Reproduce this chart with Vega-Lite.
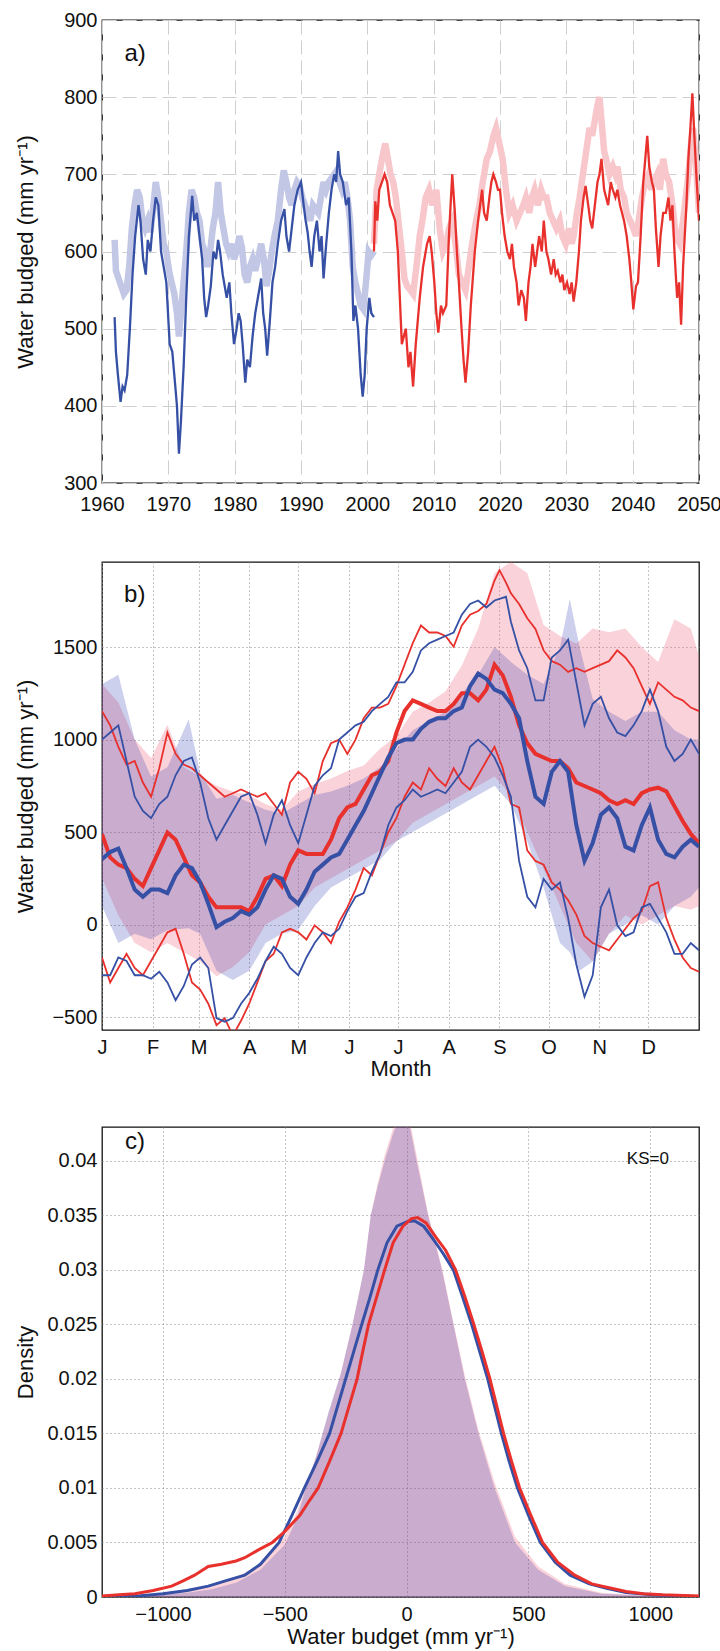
{
"$schema":"https://vega.github.io/schema/vega-lite/v6.json",
"padding":{"left":13,"top":9,"right":5,"bottom":2},
"autosize":{"type":"pad"},
"spacing":46,
"config":{
 "font":"Liberation Sans",
 "view":{"stroke":"#111","strokeWidth":1.3},
 "axis":{"domain":false,"ticks":false,"tickSize":0,"labelFont":"Liberation Sans","titleFont":"Liberation Sans","labelFontSize":20,"titleFontSize":22,"labelFlush":false,"labelOverlap":false,"labelColor":"#111","titleColor":"#111","titleFontWeight":"normal","labelPadding":5},
 "axisX":{"labelPadding":7,"titlePadding":2},
 "text":{"font":"Liberation Sans","color":"#111"}
},
"datasets":{
"aHD":[{"t":1961.9,"v":515},{"t":1962.1,"v":470},{"t":1962.4,"v":440},{"t":1962.8,"v":405},{"t":1963.1,"v":425},{"t":1963.4,"v":420},{"t":1963.8,"v":440},{"t":1964.2,"v":500},{"t":1964.6,"v":570},{"t":1965,"v":620},{"t":1965.5,"v":660},{"t":1965.8,"v":640},{"t":1966.2,"v":590},{"t":1966.6,"v":570},{"t":1966.9,"v":615},{"t":1967.3,"v":600},{"t":1967.7,"v":640},{"t":1968.1,"v":670},{"t":1968.5,"v":660},{"t":1968.9,"v":600},{"t":1969.3,"v":580},{"t":1969.7,"v":560},{"t":1970.2,"v":480},{"t":1970.6,"v":470},{"t":1971,"v":430},{"t":1971.3,"v":400},{"t":1971.6,"v":338},{"t":1971.9,"v":380},{"t":1972.3,"v":450},{"t":1972.7,"v":540},{"t":1973.1,"v":620},{"t":1973.6,"v":672},{"t":1973.9,"v":640},{"t":1974.3,"v":650},{"t":1974.7,"v":620},{"t":1975.1,"v":590},{"t":1975.4,"v":540},{"t":1975.7,"v":515},{"t":1976,"v":530},{"t":1976.4,"v":555},{"t":1976.8,"v":600},{"t":1977.2,"v":590},{"t":1977.5,"v":615},{"t":1977.8,"v":600},{"t":1978.2,"v":570},{"t":1978.8,"v":540},{"t":1979.2,"v":560},{"t":1979.5,"v":520},{"t":1979.9,"v":480},{"t":1980.3,"v":500},{"t":1980.6,"v":520},{"t":1980.9,"v":510},{"t":1981.2,"v":480},{"t":1981.6,"v":430},{"t":1981.9,"v":460},{"t":1982.3,"v":450},{"t":1982.7,"v":490},{"t":1983.1,"v":520},{"t":1983.5,"v":540},{"t":1984,"v":565},{"t":1984.3,"v":520},{"t":1984.6,"v":500},{"t":1984.9,"v":465},{"t":1985.3,"v":510},{"t":1985.7,"v":560},{"t":1986.1,"v":580},{"t":1986.5,"v":610},{"t":1987,"v":640},{"t":1987.5,"v":655},{"t":1987.8,"v":620},{"t":1988.2,"v":600},{"t":1988.6,"v":630},{"t":1989,"v":660},{"t":1989.5,"v":680},{"t":1990,"v":690},{"t":1990.4,"v":660},{"t":1990.7,"v":640},{"t":1991,"v":625},{"t":1991.3,"v":600},{"t":1991.6,"v":580},{"t":1992,"v":620},{"t":1992.4,"v":640},{"t":1992.8,"v":600},{"t":1993.1,"v":620},{"t":1993.4,"v":565},{"t":1993.8,"v":610},{"t":1994.2,"v":650},{"t":1994.6,"v":680},{"t":1995,"v":700},{"t":1995.3,"v":690},{"t":1995.6,"v":730},{"t":1995.9,"v":700},{"t":1996.3,"v":690},{"t":1996.8,"v":660},{"t":1997.2,"v":670},{"t":1997.6,"v":600},{"t":1997.9,"v":510},{"t":1998.2,"v":530},{"t":1998.6,"v":500},{"t":1999,"v":440},{"t":1999.3,"v":412},{"t":1999.6,"v":440},{"t":1999.9,"v":500},{"t":2000.3,"v":540},{"t":2000.6,"v":520},{"t":2001,"v":515}],
"aHL":[{"t":1961.9,"v":615},{"t":1962.1,"v":575},{"t":1962.5,"v":565},{"t":1962.9,"v":555},{"t":1963.3,"v":545},{"t":1963.7,"v":550},{"t":1964.1,"v":580},{"t":1964.5,"v":630},{"t":1964.9,"v":660},{"t":1965.3,"v":680},{"t":1965.7,"v":670},{"t":1966.1,"v":640},{"t":1966.5,"v":630},{"t":1966.9,"v":640},{"t":1967.3,"v":625},{"t":1967.7,"v":655},{"t":1968.1,"v":690},{"t":1968.5,"v":670},{"t":1968.9,"v":640},{"t":1969.3,"v":610},{"t":1969.7,"v":600},{"t":1970.1,"v":575},{"t":1970.5,"v":560},{"t":1970.9,"v":545},{"t":1971.3,"v":520},{"t":1971.6,"v":490},{"t":1971.9,"v":520},{"t":1972.3,"v":560},{"t":1972.7,"v":600},{"t":1973.1,"v":650},{"t":1973.5,"v":680},{"t":1973.9,"v":670},{"t":1974.3,"v":650},{"t":1974.7,"v":640},{"t":1975.1,"v":610},{"t":1975.5,"v":600},{"t":1975.9,"v":580},{"t":1976.3,"v":600},{"t":1976.7,"v":630},{"t":1977.1,"v":650},{"t":1977.5,"v":690},{"t":1977.9,"v":650},{"t":1978.3,"v":630},{"t":1978.7,"v":610},{"t":1979.1,"v":600},{"t":1979.5,"v":610},{"t":1979.9,"v":590},{"t":1980.3,"v":600},{"t":1980.7,"v":620},{"t":1981.1,"v":605},{"t":1981.5,"v":570},{"t":1981.9,"v":560},{"t":1982.3,"v":580},{"t":1982.7,"v":590},{"t":1983.1,"v":575},{"t":1983.5,"v":590},{"t":1984,"v":610},{"t":1984.4,"v":590},{"t":1984.8,"v":555},{"t":1985.2,"v":575},{"t":1985.6,"v":600},{"t":1986,"v":620},{"t":1986.5,"v":640},{"t":1987,"v":680},{"t":1987.4,"v":705},{"t":1987.8,"v":690},{"t":1988.2,"v":670},{"t":1988.6,"v":660},{"t":1989,"v":680},{"t":1989.4,"v":690},{"t":1989.8,"v":685},{"t":1990.2,"v":670},{"t":1990.6,"v":660},{"t":1991,"v":650},{"t":1991.4,"v":640},{"t":1991.8,"v":660},{"t":1992.2,"v":655},{"t":1992.6,"v":650},{"t":1993,"v":670},{"t":1993.4,"v":690},{"t":1993.8,"v":680},{"t":1994.2,"v":690},{"t":1994.6,"v":695},{"t":1995,"v":700},{"t":1995.4,"v":705},{"t":1995.8,"v":690},{"t":1996.2,"v":680},{"t":1996.6,"v":690},{"t":1997,"v":670},{"t":1997.4,"v":640},{"t":1997.8,"v":580},{"t":1998.2,"v":560},{"t":1998.6,"v":545},{"t":1999,"v":530},{"t":1999.4,"v":525},{"t":1999.8,"v":560},{"t":2000.2,"v":600},{"t":2000.6,"v":595},{"t":2001,"v":600}],
"aFD":[{"t":2001,"v":600},{"t":2001.2,"v":665},{"t":2001.5,"v":640},{"t":2001.8,"v":680},{"t":2002.2,"v":690},{"t":2002.6,"v":700},{"t":2003,"v":690},{"t":2003.4,"v":660},{"t":2003.8,"v":650},{"t":2004.2,"v":640},{"t":2004.6,"v":600},{"t":2004.9,"v":540},{"t":2005.2,"v":480},{"t":2005.5,"v":490},{"t":2005.8,"v":500},{"t":2006.2,"v":450},{"t":2006.5,"v":470},{"t":2006.9,"v":425},{"t":2007.3,"v":480},{"t":2007.9,"v":540},{"t":2008.4,"v":580},{"t":2009,"v":610},{"t":2009.4,"v":620},{"t":2009.7,"v":600},{"t":2010.1,"v":560},{"t":2010.4,"v":520},{"t":2010.7,"v":495},{"t":2011.1,"v":530},{"t":2011.4,"v":520},{"t":2011.9,"v":530},{"t":2012.3,"v":620},{"t":2012.8,"v":700},{"t":2013.2,"v":650},{"t":2013.5,"v":600},{"t":2013.8,"v":560},{"t":2014.2,"v":500},{"t":2014.5,"v":460},{"t":2014.8,"v":430},{"t":2015.2,"v":470},{"t":2015.6,"v":530},{"t":2016.2,"v":600},{"t":2016.7,"v":640},{"t":2017.3,"v":680},{"t":2017.6,"v":650},{"t":2018,"v":640},{"t":2018.4,"v":670},{"t":2018.7,"v":690},{"t":2019,"v":700},{"t":2019.4,"v":690},{"t":2019.7,"v":680},{"t":2020,"v":680},{"t":2020.3,"v":650},{"t":2020.7,"v":620},{"t":2021.1,"v":600},{"t":2021.5,"v":590},{"t":2021.8,"v":610},{"t":2022.1,"v":580},{"t":2022.5,"v":560},{"t":2022.8,"v":530},{"t":2023.2,"v":550},{"t":2023.6,"v":540},{"t":2023.9,"v":510},{"t":2024.3,"v":560},{"t":2024.6,"v":580},{"t":2024.9,"v":610},{"t":2025.3,"v":580},{"t":2025.6,"v":600},{"t":2025.9,"v":620},{"t":2026.3,"v":600},{"t":2026.6,"v":640},{"t":2027,"v":600},{"t":2027.3,"v":590},{"t":2027.7,"v":570},{"t":2028.1,"v":590},{"t":2028.4,"v":570},{"t":2028.7,"v":575},{"t":2029.1,"v":560},{"t":2029.4,"v":570},{"t":2029.7,"v":550},{"t":2030.1,"v":560},{"t":2030.5,"v":545},{"t":2030.8,"v":560},{"t":2031.1,"v":535},{"t":2031.5,"v":560},{"t":2031.9,"v":600},{"t":2032.2,"v":640},{"t":2032.6,"v":670},{"t":2032.9,"v":685},{"t":2033.3,"v":660},{"t":2033.6,"v":640},{"t":2033.9,"v":630},{"t":2034.3,"v":660},{"t":2034.7,"v":690},{"t":2035,"v":700},{"t":2035.3,"v":720},{"t":2035.7,"v":680},{"t":2036,"v":670},{"t":2036.3,"v":660},{"t":2036.7,"v":690},{"t":2037,"v":680},{"t":2037.4,"v":670},{"t":2037.7,"v":680},{"t":2038.1,"v":660},{"t":2038.4,"v":650},{"t":2038.7,"v":640},{"t":2039.1,"v":620},{"t":2039.5,"v":590},{"t":2039.8,"v":560},{"t":2040.1,"v":525},{"t":2040.5,"v":555},{"t":2040.8,"v":560},{"t":2041.2,"v":620},{"t":2041.6,"v":690},{"t":2041.9,"v":720},{"t":2042.2,"v":750},{"t":2042.5,"v":710},{"t":2042.9,"v":690},{"t":2043.2,"v":680},{"t":2043.5,"v":630},{"t":2043.9,"v":580},{"t":2044.2,"v":620},{"t":2044.6,"v":650},{"t":2045,"v":650},{"t":2045.4,"v":670},{"t":2045.7,"v":640},{"t":2046,"v":660},{"t":2046.3,"v":600},{"t":2046.7,"v":540},{"t":2047,"v":560},{"t":2047.3,"v":505},{"t":2047.6,"v":580},{"t":2048.1,"v":660},{"t":2048.4,"v":720},{"t":2048.7,"v":760},{"t":2049,"v":805},{"t":2049.3,"v":750},{"t":2049.6,"v":700},{"t":2050,"v":640}],
"aFL":[{"t":2001,"v":610},{"t":2001.4,"v":680},{"t":2001.8,"v":700},{"t":2002.2,"v":720},{"t":2002.7,"v":740},{"t":2003.1,"v":720},{"t":2003.5,"v":700},{"t":2003.9,"v":690},{"t":2004.3,"v":670},{"t":2004.8,"v":630},{"t":2005.2,"v":600},{"t":2005.6,"v":565},{"t":2006,"v":555},{"t":2006.5,"v":550},{"t":2006.9,"v":545},{"t":2007.4,"v":580},{"t":2007.9,"v":620},{"t":2008.3,"v":640},{"t":2008.8,"v":670},{"t":2009.3,"v":680},{"t":2009.8,"v":660},{"t":2010.4,"v":680},{"t":2010.9,"v":630},{"t":2011.4,"v":600},{"t":2011.9,"v":610},{"t":2012.3,"v":630},{"t":2012.8,"v":640},{"t":2013.3,"v":610},{"t":2013.8,"v":570},{"t":2014.3,"v":560},{"t":2014.8,"v":550},{"t":2015.3,"v":580},{"t":2015.8,"v":610},{"t":2016.4,"v":640},{"t":2016.9,"v":660},{"t":2017.4,"v":690},{"t":2018,"v":720},{"t":2018.5,"v":730},{"t":2019,"v":750},{"t":2019.4,"v":760},{"t":2019.9,"v":740},{"t":2020.4,"v":720},{"t":2020.9,"v":680},{"t":2021.4,"v":650},{"t":2021.9,"v":660},{"t":2022.5,"v":640},{"t":2023,"v":650},{"t":2023.5,"v":660},{"t":2023.9,"v":670},{"t":2024.4,"v":650},{"t":2024.8,"v":670},{"t":2025.2,"v":680},{"t":2025.7,"v":660},{"t":2026.2,"v":680},{"t":2026.6,"v":670},{"t":2027,"v":670},{"t":2027.5,"v":650},{"t":2028,"v":640},{"t":2028.5,"v":630},{"t":2029,"v":640},{"t":2029.4,"v":620},{"t":2029.9,"v":610},{"t":2030.4,"v":630},{"t":2030.8,"v":610},{"t":2031.1,"v":620},{"t":2031.6,"v":650},{"t":2032,"v":670},{"t":2032.5,"v":700},{"t":2033,"v":730},{"t":2033.5,"v":760},{"t":2033.9,"v":750},{"t":2034.3,"v":770},{"t":2034.7,"v":790},{"t":2035,"v":800},{"t":2035.4,"v":760},{"t":2035.7,"v":730},{"t":2036,"v":720},{"t":2036.5,"v":700},{"t":2037,"v":710},{"t":2037.4,"v":700},{"t":2037.7,"v":710},{"t":2038.2,"v":680},{"t":2038.7,"v":670},{"t":2039.1,"v":650},{"t":2039.6,"v":640},{"t":2040.1,"v":630},{"t":2040.5,"v":620},{"t":2040.9,"v":640},{"t":2041.4,"v":670},{"t":2041.9,"v":690},{"t":2042.4,"v":700},{"t":2042.8,"v":680},{"t":2043.2,"v":690},{"t":2043.7,"v":700},{"t":2044.1,"v":680},{"t":2044.6,"v":720},{"t":2045,"v":700},{"t":2045.5,"v":690},{"t":2046,"v":660},{"t":2046.5,"v":620},{"t":2047.1,"v":610},{"t":2047.6,"v":640},{"t":2048,"v":670},{"t":2048.4,"v":700},{"t":2048.8,"v":740},{"t":2049.1,"v":760},{"t":2049.5,"v":720},{"t":2050,"v":650}],
"bBandBlue":[{"d":0,"hi":1300,"lo":100},{"d":10,"hi":1350,"lo":-100},{"d":20,"hi":1000,"lo":-50},{"d":30,"hi":800,"lo":-80},{"d":40,"hi":850,"lo":-30},{"d":53,"hi":1110,"lo":-20},{"d":60,"hi":820,"lo":-50},{"d":70,"hi":680,"lo":-250},{"d":80,"hi":700,"lo":-300},{"d":90,"hi":660,"lo":-250},{"d":100,"hi":620,"lo":-100},{"d":110,"hi":600,"lo":-50},{"d":120,"hi":650,"lo":-30},{"d":130,"hi":700,"lo":100},{"d":140,"hi":720,"lo":200},{"d":150,"hi":750,"lo":250},{"d":160,"hi":790,"lo":300},{"d":170,"hi":850,"lo":350},{"d":180,"hi":950,"lo":450},{"d":190,"hi":1050,"lo":500},{"d":200,"hi":1100,"lo":550},{"d":210,"hi":1150,"lo":600},{"d":220,"hi":1250,"lo":650},{"d":230,"hi":1350,"lo":700},{"d":240,"hi":1500,"lo":750},{"d":250,"hi":1420,"lo":650},{"d":260,"hi":1350,"lo":450},{"d":270,"hi":1300,"lo":200},{"d":280,"hi":1500,"lo":-100},{"d":286,"hi":1760,"lo":-150},{"d":292,"hi":1500,"lo":-250},{"d":300,"hi":1220,"lo":-200},{"d":310,"hi":1150,"lo":-50},{"d":320,"hi":1100,"lo":0},{"d":330,"hi":1150,"lo":50},{"d":340,"hi":1150,"lo":0},{"d":350,"hi":1050,"lo":100},{"d":360,"hi":1000,"lo":150},{"d":365,"hi":1000,"lo":200}],
"bBandRed":[{"d":0,"hi":1300,"lo":250},{"d":10,"hi":1200,"lo":50},{"d":20,"hi":1000,"lo":-100},{"d":30,"hi":900,"lo":-150},{"d":40,"hi":1080,"lo":-100},{"d":50,"hi":850,"lo":-150},{"d":60,"hi":800,"lo":-200},{"d":70,"hi":750,"lo":-280},{"d":80,"hi":720,"lo":-230},{"d":90,"hi":700,"lo":-150},{"d":100,"hi":650,"lo":0},{"d":110,"hi":620,"lo":50},{"d":120,"hi":720,"lo":100},{"d":130,"hi":760,"lo":200},{"d":140,"hi":790,"lo":250},{"d":150,"hi":830,"lo":300},{"d":160,"hi":860,"lo":350},{"d":170,"hi":950,"lo":400},{"d":180,"hi":1020,"lo":450},{"d":190,"hi":1150,"lo":550},{"d":200,"hi":1200,"lo":600},{"d":210,"hi":1260,"lo":650},{"d":220,"hi":1400,"lo":700},{"d":230,"hi":1600,"lo":750},{"d":240,"hi":1900,"lo":800},{"d":250,"hi":1960,"lo":700},{"d":260,"hi":1900,"lo":500},{"d":270,"hi":1620,"lo":300},{"d":280,"hi":1560,"lo":100},{"d":290,"hi":1520,"lo":-100},{"d":300,"hi":1600,"lo":-200},{"d":310,"hi":1580,"lo":-50},{"d":320,"hi":1600,"lo":50},{"d":330,"hi":1500,"lo":0},{"d":340,"hi":1420,"lo":50},{"d":350,"hi":1650,"lo":100},{"d":360,"hi":1600,"lo":80},{"d":365,"hi":1450,"lo":100}],
"bThinRed":[
{"d":0,"v":1154,"s":"up"},{"d":5,"v":1077,"s":"up"},{"d":10,"v":961,"s":"up"},{"d":15,"v":865,"s":"up"},{"d":20,"v":884,"s":"up"},{"d":25,"v":768,"s":"up"},{"d":30,"v":691,"s":"up"},{"d":35,"v":845,"s":"up"},{"d":40,"v":1038,"s":"up"},{"d":45,"v":923,"s":"up"},{"d":50,"v":865,"s":"up"},{"d":55,"v":845,"s":"up"},{"d":60,"v":807,"s":"up"},{"d":65,"v":768,"s":"up"},{"d":70,"v":730,"s":"up"},{"d":75,"v":691,"s":"up"},{"d":80,"v":710,"s":"up"},{"d":85,"v":730,"s":"up"},{"d":90,"v":710,"s":"up"},{"d":95,"v":691,"s":"up"},{"d":100,"v":710,"s":"up"},{"d":105,"v":652,"s":"up"},{"d":110,"v":594,"s":"up"},{"d":115,"v":768,"s":"up"},{"d":120,"v":826,"s":"up"},{"d":125,"v":788,"s":"up"},{"d":130,"v":710,"s":"up"},{"d":135,"v":884,"s":"up"},{"d":140,"v":980,"s":"up"},{"d":145,"v":1000,"s":"up"},{"d":150,"v":923,"s":"up"},{"d":155,"v":1000,"s":"up"},{"d":160,"v":1115,"s":"up"},{"d":165,"v":1173,"s":"up"},{"d":170,"v":1173,"s":"up"},{"d":175,"v":1193,"s":"up"},{"d":180,"v":1289,"s":"up"},{"d":185,"v":1405,"s":"up"},{"d":190,"v":1521,"s":"up"},{"d":195,"v":1617,"s":"up"},{"d":200,"v":1579,"s":"up"},{"d":205,"v":1579,"s":"up"},{"d":210,"v":1560,"s":"up"},{"d":215,"v":1502,"s":"up"},{"d":220,"v":1617,"s":"up"},{"d":225,"v":1675,"s":"up"},{"d":230,"v":1695,"s":"up"},{"d":235,"v":1733,"s":"up"},{"d":240,"v":1860,"s":"up"},{"d":243,"v":1916,"s":"up"},{"d":247,"v":1849,"s":"up"},{"d":250,"v":1791,"s":"up"},{"d":255,"v":1733,"s":"up"},{"d":260,"v":1656,"s":"up"},{"d":265,"v":1598,"s":"up"},{"d":270,"v":1482,"s":"up"},{"d":275,"v":1424,"s":"up"},{"d":280,"v":1405,"s":"up"},{"d":285,"v":1366,"s":"up"},{"d":290,"v":1386,"s":"up"},{"d":295,"v":1366,"s":"up"},{"d":300,"v":1386,"s":"up"},{"d":305,"v":1405,"s":"up"},{"d":310,"v":1424,"s":"up"},{"d":315,"v":1482,"s":"up"},{"d":320,"v":1444,"s":"up"},{"d":325,"v":1386,"s":"up"},{"d":330,"v":1289,"s":"up"},{"d":335,"v":1193,"s":"up"},{"d":340,"v":1309,"s":"up"},{"d":345,"v":1270,"s":"up"},{"d":350,"v":1231,"s":"up"},{"d":355,"v":1212,"s":"up"},{"d":360,"v":1173,"s":"up"},{"d":365,"v":1154,"s":"up"},
{"d":0,"v":-178,"s":"lo"},{"d":5,"v":-313,"s":"lo"},{"d":10,"v":-235,"s":"lo"},{"d":15,"v":-158,"s":"lo"},{"d":20,"v":-235,"s":"lo"},{"d":25,"v":-274,"s":"lo"},{"d":30,"v":-197,"s":"lo"},{"d":35,"v":-120,"s":"lo"},{"d":40,"v":-42,"s":"lo"},{"d":45,"v":-23,"s":"lo"},{"d":50,"v":-158,"s":"lo"},{"d":55,"v":-313,"s":"lo"},{"d":60,"v":-351,"s":"lo"},{"d":65,"v":-428,"s":"lo"},{"d":70,"v":-544,"s":"lo"},{"d":75,"v":-506,"s":"lo"},{"d":80,"v":-600,"s":"lo"},{"d":85,"v":-520,"s":"lo"},{"d":90,"v":-428,"s":"lo"},{"d":95,"v":-313,"s":"lo"},{"d":100,"v":-197,"s":"lo"},{"d":105,"v":-158,"s":"lo"},{"d":110,"v":-42,"s":"lo"},{"d":115,"v":-23,"s":"lo"},{"d":120,"v":-42,"s":"lo"},{"d":125,"v":-81,"s":"lo"},{"d":130,"v":-4,"s":"lo"},{"d":135,"v":-42,"s":"lo"},{"d":140,"v":-100,"s":"lo"},{"d":145,"v":15,"s":"lo"},{"d":150,"v":93,"s":"lo"},{"d":155,"v":189,"s":"lo"},{"d":160,"v":305,"s":"lo"},{"d":165,"v":266,"s":"lo"},{"d":170,"v":382,"s":"lo"},{"d":175,"v":498,"s":"lo"},{"d":180,"v":575,"s":"lo"},{"d":185,"v":691,"s":"lo"},{"d":190,"v":768,"s":"lo"},{"d":195,"v":730,"s":"lo"},{"d":200,"v":845,"s":"lo"},{"d":205,"v":788,"s":"lo"},{"d":210,"v":749,"s":"lo"},{"d":215,"v":845,"s":"lo"},{"d":220,"v":768,"s":"lo"},{"d":225,"v":730,"s":"lo"},{"d":230,"v":807,"s":"lo"},{"d":235,"v":884,"s":"lo"},{"d":240,"v":961,"s":"lo"},{"d":245,"v":845,"s":"lo"},{"d":250,"v":652,"s":"lo"},{"d":255,"v":633,"s":"lo"},{"d":260,"v":401,"s":"lo"},{"d":265,"v":344,"s":"lo"},{"d":270,"v":324,"s":"lo"},{"d":275,"v":228,"s":"lo"},{"d":280,"v":189,"s":"lo"},{"d":285,"v":131,"s":"lo"},{"d":290,"v":54,"s":"lo"},{"d":295,"v":-62,"s":"lo"},{"d":300,"v":-100,"s":"lo"},{"d":305,"v":-120,"s":"lo"},{"d":310,"v":-139,"s":"lo"},{"d":315,"v":-81,"s":"lo"},{"d":320,"v":-23,"s":"lo"},{"d":325,"v":35,"s":"lo"},{"d":330,"v":73,"s":"lo"},{"d":335,"v":208,"s":"lo"},{"d":340,"v":228,"s":"lo"},{"d":345,"v":35,"s":"lo"},{"d":350,"v":-81,"s":"lo"},{"d":355,"v":-178,"s":"lo"},{"d":360,"v":-235,"s":"lo"},{"d":365,"v":-255,"s":"lo"}],
"bThinBlue":[
{"d":0,"v":1000,"s":"up"},{"d":5,"v":1038,"s":"up"},{"d":10,"v":1077,"s":"up"},{"d":15,"v":884,"s":"up"},{"d":20,"v":691,"s":"up"},{"d":25,"v":614,"s":"up"},{"d":30,"v":575,"s":"up"},{"d":35,"v":652,"s":"up"},{"d":40,"v":691,"s":"up"},{"d":45,"v":807,"s":"up"},{"d":50,"v":884,"s":"up"},{"d":55,"v":903,"s":"up"},{"d":60,"v":768,"s":"up"},{"d":65,"v":575,"s":"up"},{"d":70,"v":459,"s":"up"},{"d":75,"v":537,"s":"up"},{"d":80,"v":614,"s":"up"},{"d":85,"v":691,"s":"up"},{"d":90,"v":710,"s":"up"},{"d":95,"v":594,"s":"up"},{"d":100,"v":440,"s":"up"},{"d":105,"v":594,"s":"up"},{"d":110,"v":672,"s":"up"},{"d":115,"v":537,"s":"up"},{"d":120,"v":440,"s":"up"},{"d":125,"v":594,"s":"up"},{"d":130,"v":749,"s":"up"},{"d":135,"v":807,"s":"up"},{"d":140,"v":845,"s":"up"},{"d":145,"v":1000,"s":"up"},{"d":150,"v":1038,"s":"up"},{"d":155,"v":1077,"s":"up"},{"d":160,"v":1096,"s":"up"},{"d":165,"v":1154,"s":"up"},{"d":170,"v":1193,"s":"up"},{"d":175,"v":1231,"s":"up"},{"d":180,"v":1309,"s":"up"},{"d":185,"v":1309,"s":"up"},{"d":190,"v":1366,"s":"up"},{"d":195,"v":1482,"s":"up"},{"d":200,"v":1521,"s":"up"},{"d":205,"v":1540,"s":"up"},{"d":210,"v":1560,"s":"up"},{"d":215,"v":1579,"s":"up"},{"d":220,"v":1675,"s":"up"},{"d":225,"v":1733,"s":"up"},{"d":230,"v":1752,"s":"up"},{"d":235,"v":1714,"s":"up"},{"d":240,"v":1752,"s":"up"},{"d":247,"v":1772,"s":"up"},{"d":250,"v":1637,"s":"up"},{"d":255,"v":1482,"s":"up"},{"d":260,"v":1386,"s":"up"},{"d":265,"v":1212,"s":"up"},{"d":270,"v":1212,"s":"up"},{"d":275,"v":1444,"s":"up"},{"d":280,"v":1482,"s":"up"},{"d":285,"v":1540,"s":"up"},{"d":290,"v":1309,"s":"up"},{"d":295,"v":1077,"s":"up"},{"d":300,"v":1193,"s":"up"},{"d":305,"v":1231,"s":"up"},{"d":310,"v":1115,"s":"up"},{"d":315,"v":1038,"s":"up"},{"d":320,"v":1019,"s":"up"},{"d":325,"v":1077,"s":"up"},{"d":330,"v":1154,"s":"up"},{"d":335,"v":1270,"s":"up"},{"d":340,"v":1154,"s":"up"},{"d":345,"v":961,"s":"up"},{"d":350,"v":884,"s":"up"},{"d":355,"v":923,"s":"up"},{"d":360,"v":1000,"s":"up"},{"d":365,"v":923,"s":"up"},
{"d":0,"v":-274,"s":"lo"},{"d":5,"v":-274,"s":"lo"},{"d":10,"v":-178,"s":"lo"},{"d":15,"v":-197,"s":"lo"},{"d":20,"v":-274,"s":"lo"},{"d":25,"v":-274,"s":"lo"},{"d":30,"v":-293,"s":"lo"},{"d":35,"v":-255,"s":"lo"},{"d":40,"v":-313,"s":"lo"},{"d":45,"v":-409,"s":"lo"},{"d":50,"v":-332,"s":"lo"},{"d":55,"v":-216,"s":"lo"},{"d":60,"v":-178,"s":"lo"},{"d":65,"v":-235,"s":"lo"},{"d":70,"v":-506,"s":"lo"},{"d":75,"v":-525,"s":"lo"},{"d":80,"v":-506,"s":"lo"},{"d":85,"v":-428,"s":"lo"},{"d":90,"v":-370,"s":"lo"},{"d":95,"v":-293,"s":"lo"},{"d":100,"v":-197,"s":"lo"},{"d":105,"v":-120,"s":"lo"},{"d":110,"v":-158,"s":"lo"},{"d":115,"v":-235,"s":"lo"},{"d":120,"v":-274,"s":"lo"},{"d":125,"v":-178,"s":"lo"},{"d":130,"v":-100,"s":"lo"},{"d":135,"v":-42,"s":"lo"},{"d":140,"v":-62,"s":"lo"},{"d":145,"v":-23,"s":"lo"},{"d":150,"v":73,"s":"lo"},{"d":155,"v":150,"s":"lo"},{"d":160,"v":170,"s":"lo"},{"d":165,"v":286,"s":"lo"},{"d":170,"v":382,"s":"lo"},{"d":175,"v":537,"s":"lo"},{"d":180,"v":633,"s":"lo"},{"d":185,"v":672,"s":"lo"},{"d":190,"v":730,"s":"lo"},{"d":195,"v":691,"s":"lo"},{"d":200,"v":710,"s":"lo"},{"d":205,"v":730,"s":"lo"},{"d":210,"v":710,"s":"lo"},{"d":215,"v":768,"s":"lo"},{"d":220,"v":826,"s":"lo"},{"d":225,"v":961,"s":"lo"},{"d":230,"v":1000,"s":"lo"},{"d":235,"v":961,"s":"lo"},{"d":240,"v":903,"s":"lo"},{"d":245,"v":807,"s":"lo"},{"d":250,"v":691,"s":"lo"},{"d":255,"v":344,"s":"lo"},{"d":260,"v":150,"s":"lo"},{"d":265,"v":93,"s":"lo"},{"d":270,"v":247,"s":"lo"},{"d":275,"v":189,"s":"lo"},{"d":280,"v":228,"s":"lo"},{"d":285,"v":35,"s":"lo"},{"d":290,"v":-216,"s":"lo"},{"d":295,"v":-390,"s":"lo"},{"d":300,"v":-274,"s":"lo"},{"d":305,"v":93,"s":"lo"},{"d":310,"v":189,"s":"lo"},{"d":315,"v":-4,"s":"lo"},{"d":320,"v":-62,"s":"lo"},{"d":325,"v":-42,"s":"lo"},{"d":330,"v":93,"s":"lo"},{"d":335,"v":112,"s":"lo"},{"d":340,"v":35,"s":"lo"},{"d":345,"v":-42,"s":"lo"},{"d":350,"v":-158,"s":"lo"},{"d":355,"v":-158,"s":"lo"},{"d":360,"v":-100,"s":"lo"},{"d":365,"v":-139,"s":"lo"}],
"bMeanRed":[{"d":0,"v":488},{"d":5,"v":363},{"d":10,"v":324},{"d":15,"v":305},{"d":20,"v":247},{"d":25,"v":208},{"d":30,"v":305},{"d":35,"v":401},{"d":40,"v":498},{"d":45,"v":459},{"d":50,"v":363},{"d":55,"v":266},{"d":60,"v":228},{"d":65,"v":150},{"d":70,"v":93},{"d":75,"v":93},{"d":80,"v":93},{"d":85,"v":93},{"d":90,"v":73},{"d":95,"v":150},{"d":100,"v":247},{"d":105,"v":266},{"d":110,"v":208},{"d":115,"v":324},{"d":120,"v":401},{"d":125,"v":382},{"d":130,"v":382},{"d":135,"v":382},{"d":140,"v":459},{"d":145,"v":575},{"d":150,"v":633},{"d":155,"v":652},{"d":160,"v":730},{"d":165,"v":807},{"d":170,"v":826},{"d":175,"v":884},{"d":180,"v":1038},{"d":185,"v":1154},{"d":190,"v":1212},{"d":195,"v":1193},{"d":200,"v":1173},{"d":205,"v":1154},{"d":210,"v":1154},{"d":215,"v":1193},{"d":220,"v":1251},{"d":225,"v":1251},{"d":230,"v":1212},{"d":235,"v":1270},{"d":240,"v":1405},{"d":245,"v":1347},{"d":250,"v":1231},{"d":255,"v":1077},{"d":260,"v":980},{"d":265,"v":923},{"d":270,"v":903},{"d":275,"v":884},{"d":280,"v":884},{"d":285,"v":845},{"d":290,"v":768},{"d":295,"v":749},{"d":300,"v":730},{"d":305,"v":710},{"d":310,"v":672},{"d":315,"v":652},{"d":320,"v":672},{"d":325,"v":652},{"d":330,"v":710},{"d":335,"v":730},{"d":340,"v":740},{"d":345,"v":720},{"d":350,"v":640},{"d":355,"v":560},{"d":360,"v":490},{"d":365,"v":440}],
"bMeanBlue":[{"d":0,"v":353},{"d":5,"v":392},{"d":10,"v":411},{"d":15,"v":305},{"d":20,"v":189},{"d":25,"v":150},{"d":30,"v":189},{"d":35,"v":189},{"d":40,"v":170},{"d":45,"v":266},{"d":50,"v":324},{"d":55,"v":305},{"d":60,"v":228},{"d":65,"v":112},{"d":70,"v":-14},{"d":75,"v":15},{"d":80,"v":35},{"d":85,"v":73},{"d":90,"v":54},{"d":95,"v":93},{"d":100,"v":189},{"d":105,"v":266},{"d":110,"v":247},{"d":115,"v":150},{"d":120,"v":112},{"d":125,"v":189},{"d":130,"v":286},{"d":135,"v":324},{"d":140,"v":363},{"d":145,"v":382},{"d":150,"v":459},{"d":155,"v":537},{"d":160,"v":614},{"d":165,"v":710},{"d":170,"v":807},{"d":175,"v":903},{"d":180,"v":980},{"d":185,"v":1000},{"d":190,"v":1000},{"d":195,"v":1058},{"d":200,"v":1096},{"d":205,"v":1115},{"d":210,"v":1115},{"d":215,"v":1154},{"d":220,"v":1173},{"d":225,"v":1289},{"d":230,"v":1357},{"d":235,"v":1328},{"d":240,"v":1270},{"d":245,"v":1251},{"d":250,"v":1193},{"d":255,"v":1115},{"d":260,"v":884},{"d":265,"v":691},{"d":270,"v":652},{"d":275,"v":826},{"d":280,"v":884},{"d":285,"v":826},{"d":290,"v":537},{"d":295,"v":344},{"d":300,"v":440},{"d":305,"v":594},{"d":310,"v":633},{"d":315,"v":575},{"d":320,"v":421},{"d":325,"v":401},{"d":330,"v":537},{"d":335,"v":633},{"d":340,"v":459},{"d":345,"v":382},{"d":350,"v":363},{"d":355,"v":421},{"d":360,"v":459},{"d":365,"v":421}],
"cFillBlue":[{"w":-1250,"den":0},{"w":-1100,"den":0.0001},{"w":-1000,"den":0.0002},{"w":-900,"den":0.0004},{"w":-800,"den":0.0007},{"w":-700,"den":0.0013},{"w":-600,"den":0.0025},{"w":-500,"den":0.0048},{"w":-450,"den":0.0072},{"w":-420,"den":0.0095},{"w":-370,"den":0.013},{"w":-320,"den":0.017},{"w":-270,"den":0.0205},{"w":-222,"den":0.025},{"w":-175,"den":0.03},{"w":-147,"den":0.035},{"w":-120,"den":0.0375},{"w":-90,"den":0.04},{"w":-55,"den":0.0425},{"w":-20,"den":0.0445},{"w":10,"den":0.0435},{"w":41,"den":0.04},{"w":88,"den":0.035},{"w":145,"den":0.03},{"w":192,"den":0.025},{"w":239,"den":0.02},{"w":295,"den":0.015},{"w":361,"den":0.01},{"w":445,"den":0.005},{"w":540,"den":0.0025},{"w":650,"den":0.001},{"w":800,"den":0.0003},{"w":1000,"den":0.0001},{"w":1200,"den":0}],
"cFillRed":[{"w":-1250,"den":0},{"w":-1000,"den":0.0003},{"w":-800,"den":0.001},{"w":-700,"den":0.0018},{"w":-600,"den":0.003},{"w":-500,"den":0.0055},{"w":-450,"den":0.0078},{"w":-420,"den":0.0097},{"w":-370,"den":0.013},{"w":-320,"den":0.0168},{"w":-270,"den":0.0205},{"w":-222,"den":0.025},{"w":-175,"den":0.03},{"w":-147,"den":0.035},{"w":-120,"den":0.0378},{"w":-90,"den":0.0405},{"w":-55,"den":0.043},{"w":-20,"den":0.0445},{"w":10,"den":0.044},{"w":41,"den":0.0405},{"w":88,"den":0.0352},{"w":145,"den":0.0302},{"w":192,"den":0.0252},{"w":239,"den":0.0203},{"w":295,"den":0.0153},{"w":361,"den":0.0105},{"w":445,"den":0.0055},{"w":540,"den":0.0028},{"w":650,"den":0.0012},{"w":800,"den":0.0004},{"w":1000,"den":0.0001},{"w":1200,"den":0}],
"cLineBlue":[{"w":-1250,"den":0.00005},{"w":-1100,"den":0.0001},{"w":-1000,"den":0.0003},{"w":-900,"den":0.0006},{"w":-814,"den":0.001},{"w":-740,"den":0.0015},{"w":-664,"den":0.002},{"w":-600,"den":0.003},{"w":-523,"den":0.005},{"w":-470,"den":0.0075},{"w":-419,"den":0.01},{"w":-366,"den":0.0125},{"w":-316,"den":0.015},{"w":-283,"den":0.0175},{"w":-250,"den":0.02},{"w":-217,"den":0.0225},{"w":-184,"den":0.025},{"w":-150,"den":0.0275},{"w":-118,"den":0.03},{"w":-80,"den":0.0325},{"w":-40,"den":0.034},{"w":0,"den":0.0344},{"w":32,"den":0.0345},{"w":70,"den":0.034},{"w":110,"den":0.0328},{"w":150,"den":0.0315},{"w":192,"den":0.03},{"w":230,"den":0.0275},{"w":267,"den":0.025},{"w":300,"den":0.0225},{"w":333,"den":0.02},{"w":361,"den":0.0175},{"w":389,"den":0.015},{"w":420,"den":0.0125},{"w":455,"den":0.01},{"w":500,"den":0.0075},{"w":549,"den":0.005},{"w":610,"den":0.0032},{"w":671,"den":0.002},{"w":750,"den":0.0012},{"w":821,"den":0.0008},{"w":900,"den":0.0004},{"w":1009,"den":0.0002},{"w":1100,"den":0.0001},{"w":1200,"den":0.00005}],
"cLineRed":[{"w":-1250,"den":0.0001},{"w":-1180,"den":0.0002},{"w":-1115,"den":0.0003},{"w":-1040,"den":0.0006},{"w":-964,"den":0.001},{"w":-915,"den":0.0015},{"w":-870,"den":0.002},{"w":-814,"den":0.0028},{"w":-760,"den":0.003},{"w":-700,"den":0.0033},{"w":-664,"den":0.0036},{"w":-610,"den":0.0043},{"w":-551,"den":0.005},{"w":-500,"den":0.006},{"w":-438,"den":0.0075},{"w":-400,"den":0.0088},{"w":-363,"den":0.01},{"w":-315,"den":0.0125},{"w":-269,"den":0.015},{"w":-236,"den":0.0175},{"w":-203,"den":0.02},{"w":-180,"den":0.0225},{"w":-156,"den":0.025},{"w":-123,"den":0.0275},{"w":-90,"den":0.03},{"w":-55,"den":0.0325},{"w":-15,"den":0.034},{"w":20,"den":0.0347},{"w":45,"den":0.0348},{"w":80,"den":0.0343},{"w":120,"den":0.033},{"w":160,"den":0.0318},{"w":201,"den":0.03},{"w":240,"den":0.0275},{"w":276,"den":0.025},{"w":310,"den":0.0225},{"w":342,"den":0.02},{"w":370,"den":0.0175},{"w":398,"den":0.015},{"w":430,"den":0.0125},{"w":464,"den":0.01},{"w":510,"den":0.0075},{"w":558,"den":0.005},{"w":620,"den":0.0032},{"w":690,"den":0.002},{"w":760,"den":0.0012},{"w":840,"den":0.0008},{"w":900,"den":0.0005},{"w":972,"den":0.0003},{"w":1050,"den":0.0002},{"w":1200,"den":0.0001}]
},
"vconcat":[
{
 "width":597,"height":463,
 "layer":[
  {"data":{"name":"aHL"},"mark":{"type":"line","color":"#c3c7e6","strokeWidth":6.5,"clip":true},
   "encoding":{
    "x":{"field":"t","type":"quantitative","scale":{"domain":[1960,2050],"nice":false,"zero":false},
         "axis":{"title":null,"values":[1960,1970,1980,1990,2000,2010,2020,2030,2040,2050],"format":"d","gridDash":[14,6],"gridColor":"#cfcfcf","labelPadding":11}},
    "y":{"field":"v","type":"quantitative","scale":{"domain":[300,900],"nice":false,"zero":false},
         "axis":{"title":"Water budged (mm yr⁻¹)","values":[300,400,500,600,700,800,900],"format":"d","gridDash":[14,6],"gridColor":"#cfcfcf","titleX":-77,"titleBaseline":"middle","titleAlign":"center","titleAngle":-90}}}},
  {"data":{"name":"aFL"},"mark":{"type":"line","color":"#f8c7cc","strokeWidth":6.5,"clip":true},
   "encoding":{"x":{"field":"t","type":"quantitative"},"y":{"field":"v","type":"quantitative"}}},
  {"data":{"name":"aHD"},"mark":{"type":"line","color":"#3550a5","strokeWidth":2.3,"clip":true},
   "encoding":{"x":{"field":"t","type":"quantitative"},"y":{"field":"v","type":"quantitative"}}},
  {"data":{"name":"aFD"},"mark":{"type":"line","color":"#e8302c","strokeWidth":2.3,"clip":true},
   "encoding":{"x":{"field":"t","type":"quantitative"},"y":{"field":"v","type":"quantitative"}}},
  {"data":{"values":[{"t":1965,"v":856,"label":"a)"}]},"mark":{"type":"text","fontSize":24,"align":"center","baseline":"middle"},
   "encoding":{"x":{"field":"t","type":"quantitative"},"y":{"field":"v","type":"quantitative"},"text":{"field":"label"}}}
 ]
},
{
 "width":597,"height":468,
 "layer":[
  {"data":{"name":"bBandRed"},"mark":{"type":"area","color":"#ee6984","opacity":0.3,"clip":true},
   "encoding":{
    "x":{"field":"d","type":"quantitative","scale":{"domain":[0,365],"nice":false,"zero":false},
         "axis":{"title":"Month","values":[0,31,59,90,120,151,181,212,243,273,304,334],"labelExpr":"['J','F','M','A','M','J','J','A','S','O','N','D'][indexof([0,31,59,90,120,151,181,212,243,273,304,334], datum.value)]","gridDash":[1,3],"gridColor":"#888","titlePadding":1}},
    "y":{"field":"hi","type":"quantitative","scale":{"domain":[-570,1960],"nice":false,"zero":false},
         "axis":{"title":"Water budged (mm yr⁻¹)","values":[-500,0,500,1000,1500],"format":"d","gridDash":[1,3],"gridColor":"#888","titleX":-77,"titleBaseline":"middle","titleAlign":"center","titleAngle":-90}},
    "y2":{"field":"lo"}}},
  {"data":{"name":"bBandBlue"},"mark":{"type":"area","color":"#0514a0","opacity":0.2,"clip":true},
   "encoding":{"x":{"field":"d","type":"quantitative"},"y":{"field":"hi","type":"quantitative"},"y2":{"field":"lo"}}},
  {"data":{"name":"bThinRed"},"mark":{"type":"line","color":"#e8302c","strokeWidth":1.8,"clip":true},
   "encoding":{"x":{"field":"d","type":"quantitative"},"y":{"field":"v","type":"quantitative"},"detail":{"field":"s"}}},
  {"data":{"name":"bThinBlue"},"mark":{"type":"line","color":"#3550a5","strokeWidth":1.8,"clip":true},
   "encoding":{"x":{"field":"d","type":"quantitative"},"y":{"field":"v","type":"quantitative"},"detail":{"field":"s"}}},
  {"data":{"name":"bMeanRed"},"mark":{"type":"line","color":"#e8302c","strokeWidth":4,"clip":true},
   "encoding":{"x":{"field":"d","type":"quantitative"},"y":{"field":"v","type":"quantitative"}}},
  {"data":{"name":"bMeanBlue"},"mark":{"type":"line","color":"#3550a5","strokeWidth":4,"clip":true},
   "encoding":{"x":{"field":"d","type":"quantitative"},"y":{"field":"v","type":"quantitative"}}},
  {"data":{"values":[{"d":20,"v":1784,"label":"b)"}]},"mark":{"type":"text","fontSize":24,"align":"center","baseline":"middle"},
   "encoding":{"x":{"field":"d","type":"quantitative"},"y":{"field":"v","type":"quantitative"},"text":{"field":"label"}}}
 ]
},
{
 "width":597,"height":470,
 "layer":[
  {"data":{"name":"cFillRed"},"mark":{"type":"area","color":"#ee6984","opacity":0.3,"clip":true},
   "encoding":{
    "x":{"field":"w","type":"quantitative","scale":{"domain":[-1250,1200],"nice":false,"zero":false},
         "axis":{"title":"Water budget (mm yr⁻¹)","values":[-1000,-500,0,500,1000],"format":"d","gridDash":[1,3],"gridColor":"#888","titlePadding":2}},
    "y":{"field":"den","type":"quantitative","scale":{"domain":[0,0.0431],"nice":false},
         "axis":{"title":"Density","values":[0,0.005,0.01,0.015,0.02,0.025,0.03,0.035,0.04],"format":"~g","gridDash":[1,3],"gridColor":"#888","titleX":-77,"titleBaseline":"middle","titleAlign":"center","titleAngle":-90}}}},
  {"data":{"name":"cFillBlue"},"mark":{"type":"area","color":"#0514a0","opacity":0.2,"clip":true},
   "encoding":{"x":{"field":"w","type":"quantitative"},"y":{"field":"den","type":"quantitative"}}},
  {"data":{"name":"cLineBlue"},"mark":{"type":"line","color":"#3550a5","strokeWidth":3,"clip":true},
   "encoding":{"x":{"field":"w","type":"quantitative"},"y":{"field":"den","type":"quantitative"}}},
  {"data":{"name":"cLineRed"},"mark":{"type":"line","color":"#e8302c","strokeWidth":3,"clip":true},
   "encoding":{"x":{"field":"w","type":"quantitative"},"y":{"field":"den","type":"quantitative"}}},
  {"data":{"values":[{"w":-1115,"den":0.0417,"label":"c)","fs":24},{"w":990,"den":0.0402,"label":"KS=0","fs":17}]},"mark":{"type":"text","align":"center","baseline":"middle"},
   "encoding":{"x":{"field":"w","type":"quantitative"},"y":{"field":"den","type":"quantitative"},"text":{"field":"label"},"size":{"field":"fs","type":"quantitative","scale":null}}}
 ]
}
]
}
